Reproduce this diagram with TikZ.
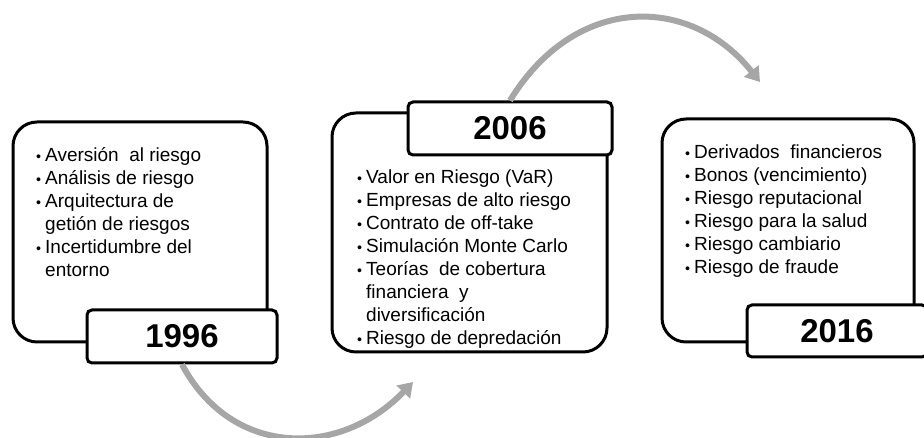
\documentclass[tikz,border=0pt]{standalone}
\usepackage{fontspec}
\setmainfont{Liberation Sans}
\usetikzlibrary{arrows.meta,positioning}
\definecolor{arrowgray}{HTML}{A6A6A6}
\newcommand{\bul}{\makebox[9pt][l]{\scalebox{0.75}{\textbullet}}}
\newcommand{\ind}{\hspace*{9pt}}

\begin{document}
\begin{tikzpicture}[x=1pt,y=1pt,>={Triangle[length=14pt,width=18pt]}]
    \tikzstyle{era}=[rectangle,draw=black,line width=3pt,rounded corners=24pt,fill=white,inner sep=0pt]
    \tikzstyle{year}=[rectangle,draw=black,line width=3pt,rounded corners=5pt,fill=white,inner sep=0pt,font=\fontsize{33}{40}\selectfont\bfseries]
    \tikzstyle{items}=[align=left,anchor=north west,inner sep=0pt,font=\fontsize{19}{23}\selectfont]
    \tikzstyle{flow}=[->,draw=arrowgray,line width=6pt]

    \useasboundingbox (0,0) rectangle (924,438);

    % 1996
    \node[era,minimum width=254pt,minimum height=220pt](box96) at (140,206){};
    \node[items](txt96) at (36,291){\bul Aversión\ \ al riesgo\\ \bul Análisis de riesgo\\ \bul Arquitectura de\\ \ind getión de riesgos\\ \bul Incertidumbre del\\ \ind entorno};
    \node[year,minimum width=190pt,minimum height=53pt](yr96) at (182,101.5){1996};

    % 2006
    \node[era,minimum width=275pt,minimum height=239pt](box06) at (469.5,205.5){};
    \node[items](txt06) at (357,268){\bul Valor en Riesgo (VaR)\\ \bul Empresas de alto riesgo\\ \bul Contrato de off-take\\ \bul Simulación Monte Carlo\\ \bul Teorías\ \ de cobertura\\ \ind financiera\ \ y\\ \ind diversificación\\ \bul Riesgo de depredación};
    \node[year,minimum width=204pt,minimum height=53pt](yr06) at (510,309.5){2006};

    % 2016
    \node[era,minimum width=252pt,minimum height=223pt](box16) at (788,207.5){};
    \node[items](txt16) at (685,293){\bul Derivados\ \ financieros\\ \bul Bonos (vencimiento)\\ \bul Riesgo reputacional\\ \bul Riesgo para la salud\\ \bul Riesgo cambiario\\ \bul Riesgo de fraude};
    \node[year,minimum width=180pt,minimum height=52pt](yr16) at (837,107){2016};

    \coordinate (tip1) at (413,56);
    \coordinate (tip2) at (760,356);

    \draw[flow] (yr96.south) .. controls (232,-20) and (340,-20) .. (tip1);
    \draw[flow] (yr06.north) .. controls (575,444) and (690,444) .. (tip2);
\end{tikzpicture}
\end{document}
